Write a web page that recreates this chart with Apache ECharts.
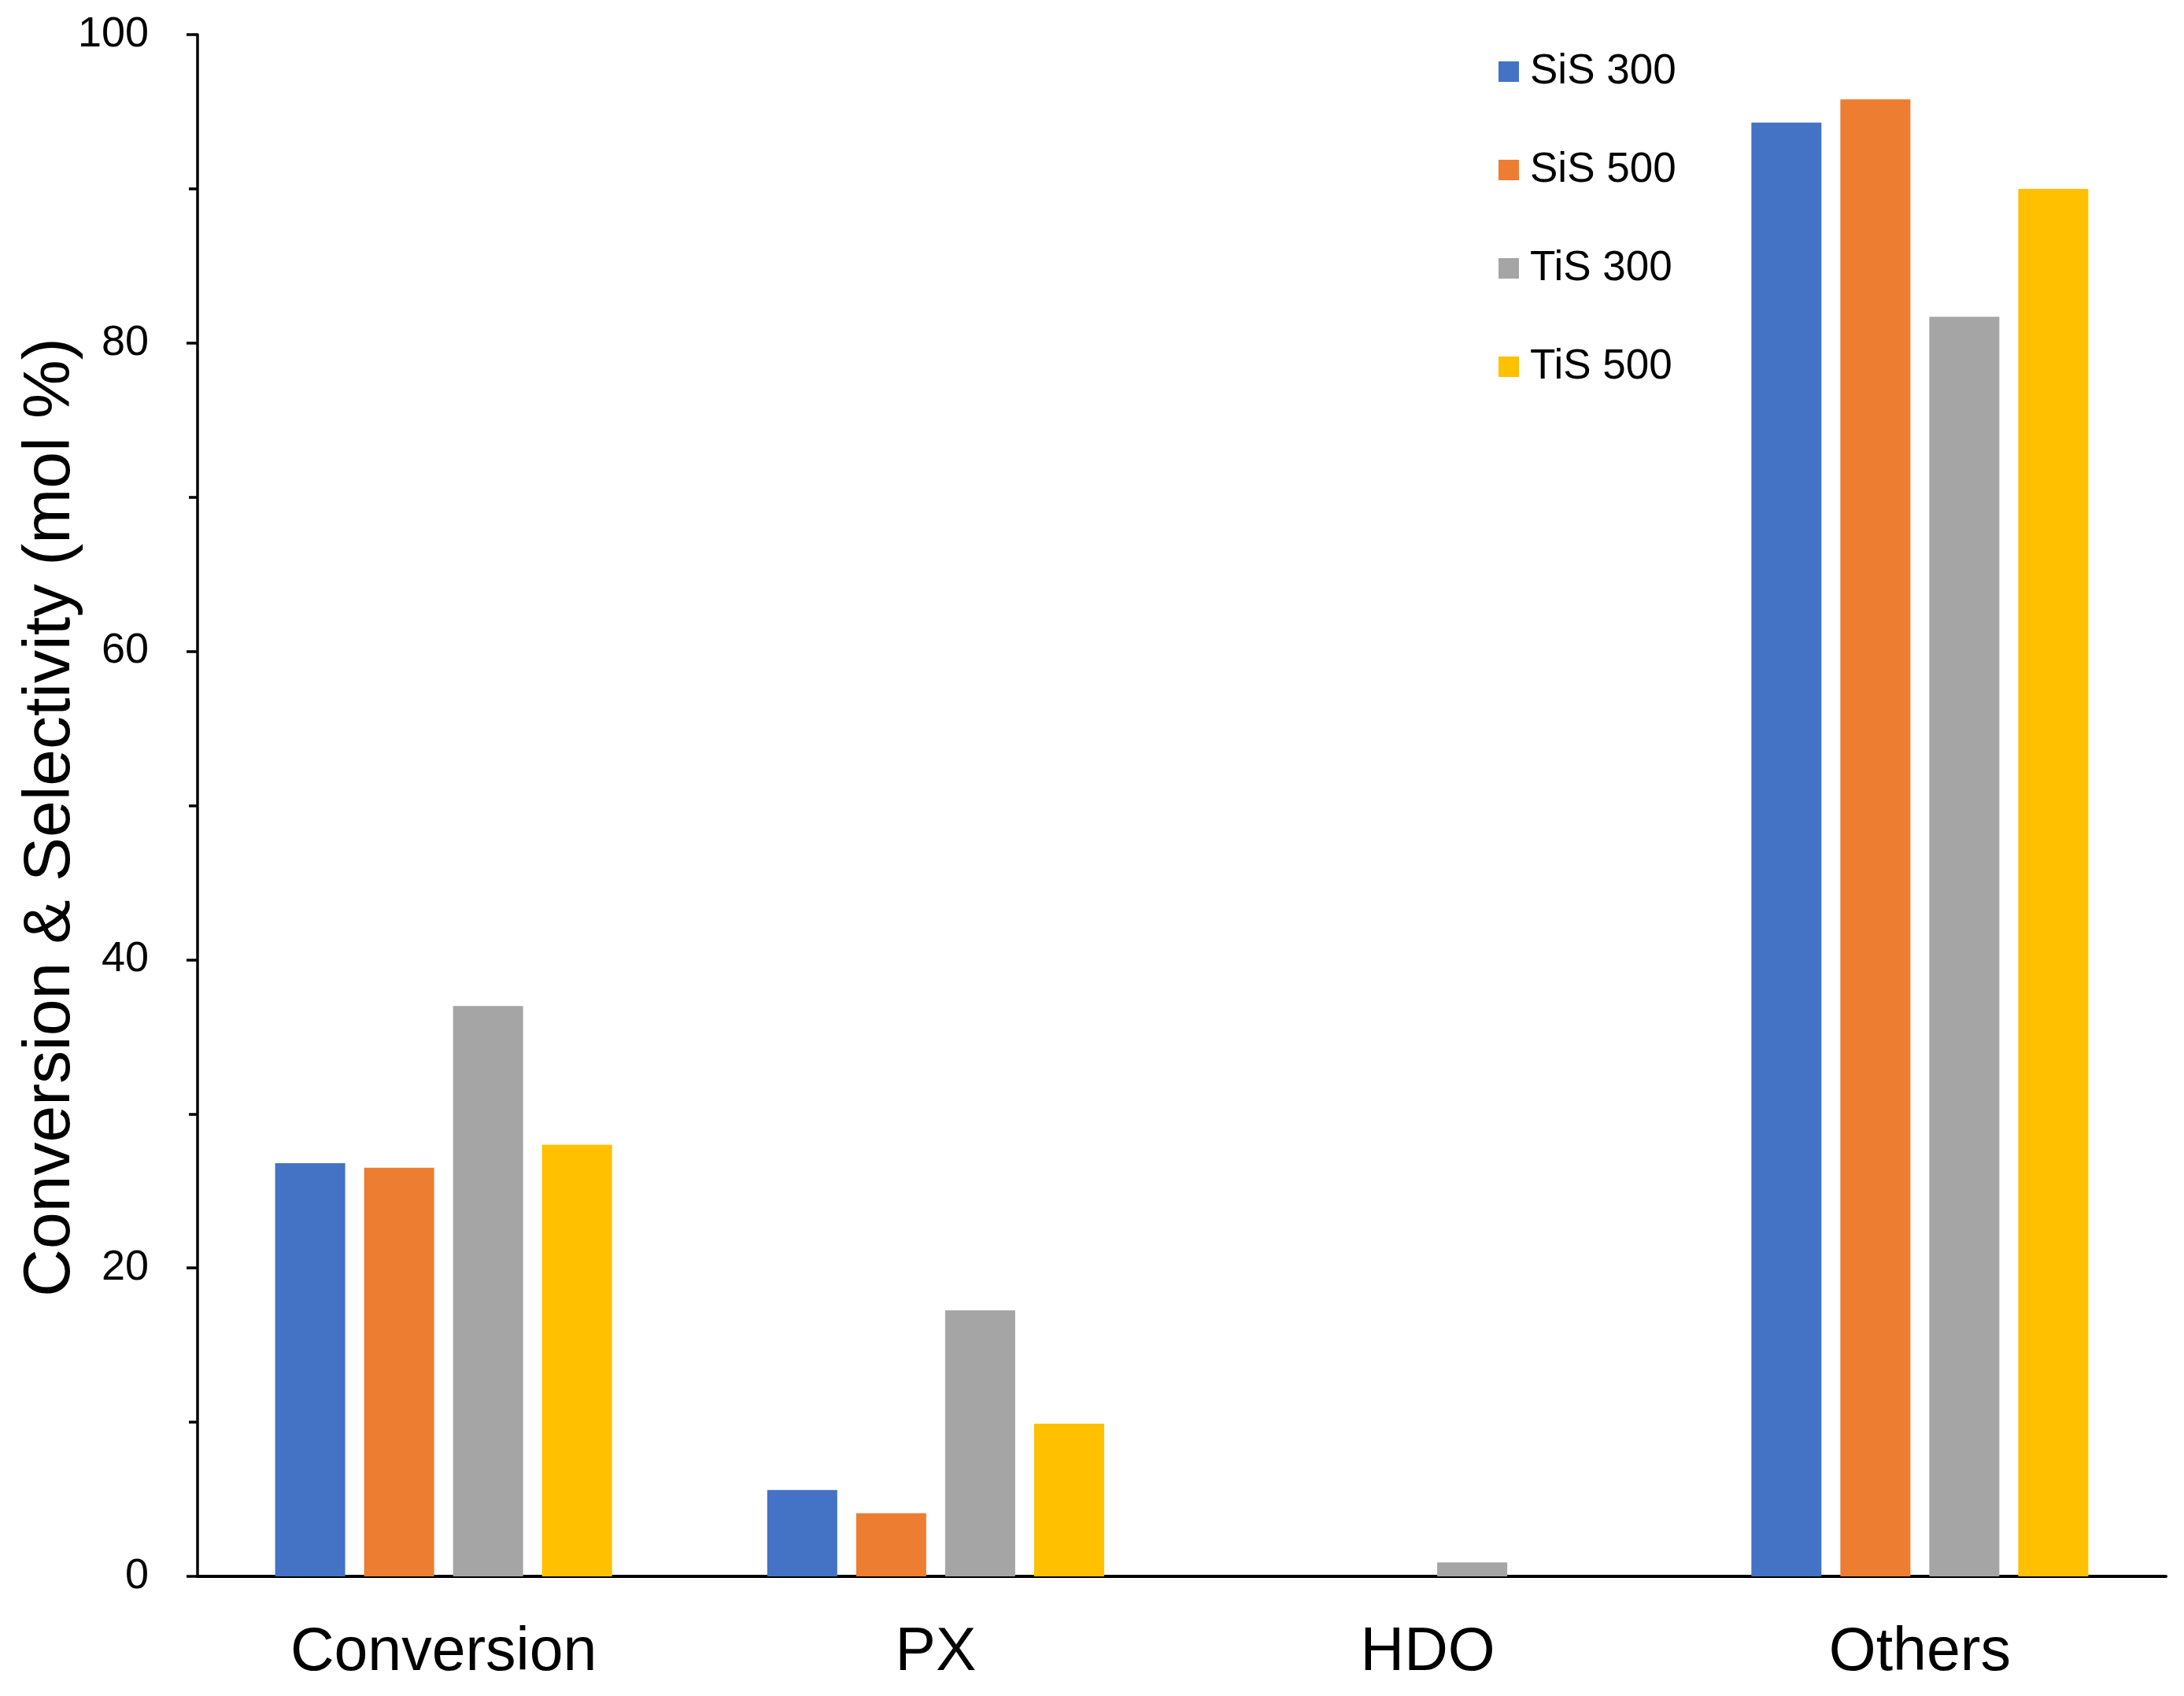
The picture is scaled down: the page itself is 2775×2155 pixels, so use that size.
<!DOCTYPE html>
<html>
<head>
<meta charset="utf-8">
<script src="https://cdn.jsdelivr.net/npm/echarts@6/dist/echarts.min.js"></script>
<style>
html,body{margin:0;padding:0;background:#fff;}
#chart{width:2775px;height:2155px;}
</style>
</head>
<body>
<div id="chart"></div>
<script>
const categories = ['Conversion', 'PX', 'HDO', 'Others'];
const seriesNames = ['SiS 300', 'SiS 500', 'TiS 300', 'TiS 500'];
const sis300 = [26.8, 5.6, 0, 94.3];
const sis500 = [26.5, 4.1, 0, 95.8];
const tis300 = [37.0, 17.25, 0.9, 81.7];
const tis500 = [28.0, 9.9, 0, 90.0];
const colors = ['#4472C4', '#ED7D31', '#A5A5A5', '#FFC000'];
const yAxisTitle = 'Conversion & Selectivity (mol %)';

const FONT = '"Liberation Sans", Arial, sans-serif';
const chart = echarts.init(document.getElementById('chart'), null, {renderer: 'canvas'});
const values = [sis300, sis500, tis300, tis500];

chart.setOption({
  backgroundColor: '#ffffff',
  animation: false,
  grid: {left: 251, right: 23, top: 44, bottom: 152, containLabel: false},
  legend: {
    orient: 'vertical',
    left: 1899,
    top: 56,
    itemWidth: 26,
    itemHeight: 26,
    itemGap: 65,
    icon: 'rect',
    data: seriesNames,
    textStyle: {fontFamily: FONT, fontSize: 53, color: '#000', lineHeight: 60, padding: [0, 0, 0, 9]}
  },
  xAxis: {
    type: 'category',
    data: categories,
    axisLine: {show: true, lineStyle: {color: '#000', width: 4}},
    axisTick: {show: false},
    axisLabel: {fontFamily: FONT, fontSize: 77, color: '#000', margin: 59},
    splitLine: {show: false}
  },
  yAxis: {
    type: 'value',
    min: 0,
    max: 100,
    interval: 20,
    name: yAxisTitle,
    nameLocation: 'middle',
    nameRotate: 90,
    nameGap: 144,
    nameMoveOverlap: false,
    nameTextStyle: {fontFamily: FONT, fontSize: 84, color: '#000', padding: [0, 30, 0, 0]},
    axisLine: {show: true, lineStyle: {color: '#000', width: 3.5}},
    axisTick: {show: true, inside: false, length: 14, lineStyle: {color: '#000', width: 3.5}},
    minorTick: {show: true, splitNumber: 2, length: 11, lineStyle: {color: '#000', width: 3.5}},
    axisLabel: {fontFamily: FONT, fontSize: 54, color: '#000', margin: 62},
    splitLine: {show: false},
    minorSplitLine: {show: false}
  },
  series: seriesNames.map((n, i) => ({
    name: n,
    type: 'bar',
    data: values[i],
    barWidth: 89,
    barGap: '27%',
    itemStyle: {color: colors[i]}
  }))
});
</script>
</body>
</html>
